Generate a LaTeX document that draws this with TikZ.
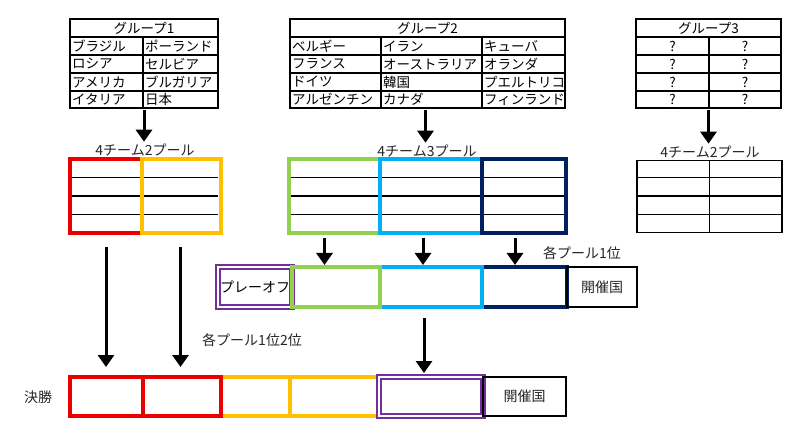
\documentclass[tikz,border=0pt]{standalone}
\usepackage{fontspec}
\setmainfont{Noto Sans CJK JP}
\usetikzlibrary{arrows.meta, positioning, calc}
\definecolor{poolred}{RGB}{235, 0, 0}
\definecolor{poolyellow}{RGB}{255, 192, 0}
\definecolor{poolgreen}{RGB}{146, 208, 80}
\definecolor{poolblue}{RGB}{0, 176, 240}
\definecolor{poolnavy}{RGB}{0, 32, 96}
\definecolor{poolpurple}{RGB}{112, 48, 160}

\begin{document}
\begin{tikzpicture}[
            x=1pt, y=-1pt,
            cell/.style={font=\fontsize{13.5}{15}\selectfont, inner sep=1pt},
            lbl/.style={font=\fontsize{14}{16}\selectfont, inner sep=1pt, text=black!85},
            tbl/.style={draw, line width=1.5pt, inner sep=0pt, outer sep=0pt},
            pool/.style={draw, line width=4.5pt, inner sep=0pt, outer sep=0pt, minimum height=74pt},
            slot/.style={pool, minimum height=40pt},
            finslot/.style={pool, minimum height=39pt},
            host/.style={draw, line width=1.5pt, inner sep=0pt, outer sep=0pt, font=\fontsize{14}{16}\selectfont, text=black!85},
            double slot/.style={draw=poolpurple, line width=2.1pt, double=white, double distance=1.3pt, inner sep=0pt, outer sep=0pt},
            bigarrow/.style={-{Triangle[width=16pt,length=12pt]}, line width=3pt}
        ]
            \useasboundingbox (0,0) rectangle (800,443);

            % Group tables
            \node[tbl, minimum width=148pt, minimum height=89pt] (g1) at (144,63.5) {};
            \node[tbl, minimum width=275pt, minimum height=89pt] (g2) at (427.5,63.5) {};
            \node[tbl, minimum width=145pt, minimum height=89pt] (g3) at (708.5,63.5) {};
            \foreach \y in {37,55,73,91} {
                \draw[line width=1.5pt] (70,\y) -- (218,\y);
                \draw[line width=1.5pt] (290,\y) -- (565,\y);
                \draw[line width=1.5pt] (636,\y) -- (781,\y);
            }
            \draw[line width=1.5pt] (143,37) -- (143,108);
            \draw[line width=1.5pt] (381,37) -- (381,108);
            \draw[line width=1.5pt] (482,37) -- (482,108);
            \draw[line width=1.5pt] (709,37) -- (709,108);

            \node[cell] (g1h) at (144,28) {グループ1};
            \node[cell] (g2h) at (427.5,28) {グループ2};
            \node[cell] (g3h) at (708.5,28) {グループ3};
            \foreach \a/\b/\y [count=\i] in {ブラジル/ポーランド/46, ロシア/セルビア/64, アメリカ/ブルガリア/82, イタリア/日本/99.5} {
                \node[cell, anchor=west] (g1a\i) at (71,\y) {\a};
                \node[cell, anchor=west] (g1b\i) at (144,\y) {\b};
            }
            \foreach \a/\b/\c/\y [count=\i] in {ベルギー/イラン/キューバ/46, フランス/オーストラリア/オランダ/64, ドイツ/韓国/プエルトリコ/82, アルゼンチン/カナダ/フィンランド/99.5} {
                \node[cell, anchor=west] (g2a\i) at (291,\y) {\a};
                \node[cell, anchor=west] (g2b\i) at (382,\y) {\b};
                \node[cell, anchor=west] (g2c\i) at (483,\y) {\c};
            }
            \foreach \y [count=\i] in {46,64,82,99.5} {
                \node[cell] (g3a\i) at (672.5,\y) {?};
                \node[cell] (g3b\i) at (745,\y) {?};
            }

            % Pool labels
            \node[lbl] (lbl1) at (145,150) {4チーム2プール};
            \node[lbl] (lbl2) at (427,151) {4チーム3プール};
            \node[lbl] (lbl3) at (710,152) {4チーム2プール};

            % Pools
            \foreach \y in {177.5,196,214.5} {
                \draw[line width=1.5pt] (72,\y) -- (218,\y);
                \draw[line width=1.5pt] (291,\y) -- (565,\y);
                \draw[line width=1.5pt] (637,\y) -- (782,\y);
            }
            \node[pool, draw=poolred, minimum width=72pt] (p1r) at (106,196) {};
            \node[pool, draw=poolyellow, minimum width=79pt, right=0pt of p1r] (p1y) {};
            \node[pool, draw=poolgreen, minimum width=91pt] (p2g) at (334.5,196) {};
            \node[pool, draw=poolblue, minimum width=102pt, right=0pt of p2g] (p2b) {};
            \node[pool, draw=poolnavy, minimum width=84pt, right=0pt of p2b] (p2n) {};
            \node[tbl, minimum width=145pt, minimum height=72pt] (p3) at (709.5,196.5) {};
            \draw[line width=1.5pt] (p3.north) -- (p3.south);

            % Playoff
            \node[double slot, minimum width=74pt, minimum height=40pt, font=\fontsize{14}{15}\selectfont] (po) at (255,287) {プレーオフ};
            \node[slot, draw=poolnavy, minimum width=85pt] (pon) at (524.5,287) {};
            \node[slot, draw=poolblue, minimum width=102pt, left=0pt of pon] (pob) {};
            \node[slot, draw=poolgreen, minimum width=88pt, left=0pt of pob] (pog) {};
            \node[host, minimum width=70pt, minimum height=40pt, right=0pt of pon] (poh) {開催国};
            \node[lbl] (first) at (582,253) {各プール1位};

            % Final
            \node[lbl] (final) at (38,397) {決勝};
            \node[finslot, draw=poolyellow, minimum width=69pt] (fy1) at (255.5,396.5) {};
            \node[finslot, draw=poolyellow, minimum width=89pt, right=0pt of fy1] (fy2) {};
            \node[finslot, draw=poolred, minimum width=73pt] (fr1) at (106.5,396.5) {};
            \node[finslot, draw=poolred, minimum width=78pt, right=0pt of fr1] (fr2) {};
            \node[double slot, minimum width=104pt, minimum height=39pt, right=0pt of fy2] (fp) {};
            \node[host, minimum width=83pt, minimum height=39pt, right=0pt of fp] (fh) {開催国};
            \node[lbl] (firstsecond) at (252,340) {各プール1位2位};

            % Arrows
            \draw[bigarrow, shorten <=2pt, shorten >=1pt] (g1.south) -- (g1.south |- lbl1.north);
            \draw[bigarrow, shorten <=2pt, shorten >=1pt] ([xshift=-2pt]g2.south) -- ([xshift=-2pt]g2.south |- lbl2.north);
            \draw[bigarrow, shorten <=2pt, shorten >=1pt] (g3.south) -- (g3.south |- lbl3.north);
            \draw[bigarrow, shorten <=14pt, shorten >=10pt] (p1r.south) -- (p1r.south |- fr1.north);
            \draw[bigarrow, shorten <=14pt, shorten >=10pt] ([xshift=-1pt]p1y.south) -- ([xshift=-1pt]p1y.south |- fr2.north);
            \draw[bigarrow, shorten <=5pt, shorten >=2pt] ([xshift=-10pt]p2g.south) -- ([xshift=-10pt]p2g.south |- pog.north);
            \draw[bigarrow, shorten <=5pt, shorten >=2pt] ([xshift=-8pt]p2b.south) -- ([xshift=-8pt]p2b.south |- pob.north);
            \draw[bigarrow, shorten <=5pt, shorten >=2pt] ([xshift=-9pt]p2n.south) -- ([xshift=-9pt]p2n.south |- pon.north);
            \draw[bigarrow, shorten <=11pt, shorten >=4pt] ([xshift=-7pt]pob.south) -- ([xshift=-7pt]pob.south |- fp.north);
        \end{tikzpicture}
\end{document}
